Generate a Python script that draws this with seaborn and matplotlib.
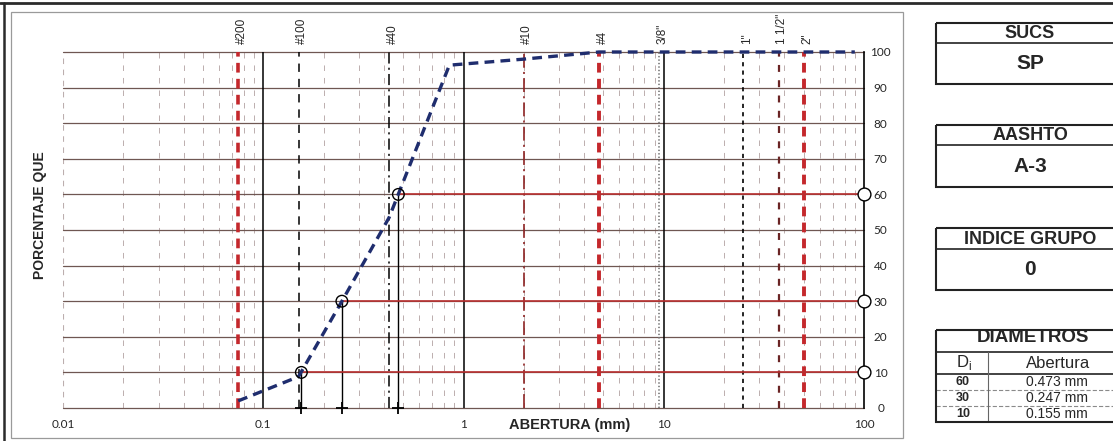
import numpy as np
import pandas as pd
import matplotlib
matplotlib.use("Agg")
import matplotlib.pyplot as plt
from matplotlib.patches import Rectangle
import seaborn as sns

# ---------------------------------------------------------------- data
# Grain-size analysis: sieve opening (mm) and percentage passing
sieve_mm = [0.075, 0.150, 0.250, 0.425, 0.850, 2.00, 4.75, 9.5, 25.0, 37.5, 50.0, 76.2, 90.0]
passing = [2.0, 8.8, 30.5, 53.5, 96.3, 98.0, 100.0, 100.0, 100.0, 100.0, 100.0, 100.0, 100.0]

# Reference sieves marked across the chart
ref_names = ["#200", "#100", "#40", "#10", "#4", '3/8"', '1"', '1 1/2"', '2"']
ref_mm = [0.075, 0.150, 0.425, 2.00, 4.75, 9.5, 25.0, 37.5, 50.0]

# Characteristic diameters D60 / D30 / D10
d_pct = [60, 30, 10]
d_mm = [0.473, 0.247, 0.155]
d_text = ["0.473 mm", "0.247 mm", "0.155 mm"]

# Classification results
sucs = "SP"
aashto = "A-3"
indice_grupo = "0"

x_ticks = [0.01, 0.1, 1, 10, 100]
x_tick_labels = ["0.01", "0.1", "1", "10", "100"]
y_ticks = [0, 10, 20, 30, 40, 50, 60, 70, 80, 90, 100]

# ---------------------------------------------------------------- styles
RED = "#c4282c"
DARKRED = "#8c2222"
NAVY = "#1f2d6e"
GRID = "#6f5752"
MINOR = "#bcaeae"

ref_styles = [
    dict(color=RED, lw=2.6, ls=(0, (7, 4.5))),
    dict(color="black", lw=1.1, ls=(0, (6, 5))),
    dict(color="black", lw=1.1, ls=(0, (8, 3, 1.5, 3))),
    dict(color=DARKRED, lw=1.2, ls=(0, (10, 3, 1.5, 3))),
    dict(color=RED, lw=2.8, ls=(0, (7, 4.5))),
    dict(color="#777777", lw=1.2, ls=(0, (1, 1.5))),
    dict(color="black", lw=1.2, ls=(0, (3, 3))),
    dict(color="#6a2424", lw=1.6, ls=(0, (5, 6))),
    dict(color=RED, lw=2.8, ls=(0, (7, 4.5))),
]

sns.set_theme(style="white")
plt.rcParams["font.family"] = ["Liberation Sans", "DejaVu Sans"]
plt.rcParams["lines.scale_dashes"] = False

W, H = 1113, 441
fig = plt.figure(figsize=(W / 100, H / 100), dpi=100)
fig.patch.set_facecolor("white")

x0, x1, y0, y1 = 63, 864, 52, 408
ax = fig.add_axes([x0 / W, 1 - y1 / H, (x1 - x0) / W, (y1 - y0) / H])
ax.set_facecolor("white")
ax.set_xscale("log")
ax.set_xlim(0.01, 100)
ax.set_ylim(0, 100)

# minor vertical grid (2..9 of each decade)
for dec in [0.01, 0.1, 1, 10]:
    for k in range(2, 10):
        ax.axvline(k * dec, color=MINOR, lw=0.7, ls=(0, (4, 5)), zorder=1)
ax.axvline(0.01, color=MINOR, lw=0.8, ls=(0, (4, 4)), zorder=1)

# horizontal grid
for yv in y_ticks:
    ax.axhline(yv, color=GRID, lw=0.9, zorder=2, clip_on=False)

# decade lines
for dec in [0.1, 1, 10]:
    ax.axvline(dec, color="black", lw=1.1, zorder=3)

# reference sieve lines
for xv, st in zip(ref_mm, ref_styles):
    ax.axvline(xv, color=st["color"], lw=st["lw"], ls=st["ls"], zorder=4)

for name, xv in zip(ref_names, ref_mm):
    ax.annotate(name, xy=(xv, 100), xytext=(2.5, 6), textcoords="offset points",
                rotation=90, ha="center", va="bottom", fontsize=8.5)

# characteristic diameters: drop lines, red level lines, markers
for dm, dp in zip(d_mm, d_pct):
    ax.plot([dm, dm], [0, dp], color="black", lw=1.0, zorder=5)
    ax.plot([dm, 100], [dp, dp], color="#b83030", lw=1.2, zorder=5)

ax.scatter(d_mm, d_pct, s=70, facecolors="none", edgecolors="black",
           linewidths=1.0, zorder=7)
ax.scatter([100] * len(d_pct), d_pct, s=85, facecolors="white",
           edgecolors="black", linewidths=1.0, zorder=7, clip_on=False)
ax.scatter(d_mm, [0] * len(d_mm), s=70, marker="+", color="black",
           linewidths=1.3, zorder=7, clip_on=False)

# grading curve
curve = pd.DataFrame({"abertura": sieve_mm, "pasa": passing})
sns.lineplot(data=curve, x="abertura", y="pasa", ax=ax, color=NAVY,
             lw=2.4, estimator=None, sort=True, zorder=6)
ax.lines[-1].set_linestyle((0, (7, 4.5)))
ax.lines[-1].set_clip_on(False)

# axes frame and ticks
for side in ["top", "left", "bottom"]:
    ax.spines[side].set_visible(False)
ax.spines["right"].set_visible(True)
ax.spines["right"].set_color("black")
ax.spines["right"].set_linewidth(1.2)

ax.set_xticks(x_ticks)
ax.set_xticklabels(x_tick_labels)
ax.xaxis.set_minor_locator(matplotlib.ticker.NullLocator())
ax.yaxis.tick_right()
ax.set_yticks(y_ticks)
ax.set_yticklabels([str(v) for v in y_ticks])
ax.tick_params(axis="x", length=0, pad=8, labelsize=8.5)
ax.tick_params(axis="y", length=0, pad=12, labelsize=8.5)
for lab in ax.get_yticklabels():
    lab.set_horizontalalignment("center")
for lab in ax.get_xticklabels() + ax.get_yticklabels():
    lab.set_family(["Lato", "DejaVu Sans"])
ax.set_xlabel("")
ax.set_ylabel("")
ax.grid(False)

# ---------------------------------------------------------------- overlay (pixel space)
ov = fig.add_axes([0, 0, 1, 1], zorder=10)
ov.set_xlim(0, W)
ov.set_ylim(H, 0)
ov.axis("off")
ov.patch.set_alpha(0)

ov.plot([0, W], [3, 3], color="#2b2b2b", lw=2.0)
ov.plot([4, 4], [3, H], color="#2b2b2b", lw=1.8)
ov.add_patch(Rectangle((11, 12), 892, 426, fill=False, ec="#9a9a9a", lw=0.9))

ov.text(570, 425, "ABERTURA (mm)", ha="center", va="center",
        fontsize=10.5, fontweight="bold")
ov.text(40, 215, "PORCENTAJE QUE", ha="center", va="center", rotation=90,
        fontsize=10, fontweight="bold")

BX0, BX1 = 936, 1125
boxes = [("SUCS", sucs, 23, 43, 84),
         ("AASHTO", aashto, 125, 145, 187),
         ("INDICE GRUPO", indice_grupo, 228, 249, 290)]
for head, val, top, mid, bot in boxes:
    ov.add_patch(Rectangle((BX0, top), BX1 - BX0, bot - top, fill=False,
                           ec="#222222", lw=1.5))
    ov.plot([BX0, BX1], [mid, mid], color="#222222", lw=1.2)
    ov.text(1030, (top + mid) / 2 + 0.5, head, ha="center", va="center",
            fontsize=13, fontweight="bold")
    ov.text(1030, (mid + bot) / 2, val, ha="center", va="center",
            fontsize=15, fontweight="bold")

# diameters table
t_top, t_head = 330, 352
row_y = [374, 390, 406, 422]
ov.text(1033, 338, "DIAMETROS", ha="center", va="center",
        fontsize=13.5, fontweight="bold", zorder=2)
ov.add_patch(Rectangle((BX0 - 5, 316), 200, 14, fc="white", ec="none", zorder=3))
ov.add_patch(Rectangle((BX0, t_top), BX1 - BX0, row_y[-1] - t_top, fill=False,
                       ec="#222222", lw=1.5, zorder=4))
ov.plot([BX0, BX1], [t_head, t_head], color="#222222", lw=1.2)
ov.plot([BX0, BX1], [row_y[0], row_y[0]], color="#222222", lw=1.2)
for yy in row_y[1:-1]:
    ov.plot([BX0, BX1], [yy, yy], color="#8a8a8a", lw=0.8, ls=(0, (3, 1.5)))
ov.plot([988, 988], [t_head, row_y[-1]], color="#666666", lw=0.8)

ov.text(964, (t_head + row_y[0]) / 2, r"D$_\mathregular{i}$", ha="center",
        va="center", fontsize=12)
ov.text(1058, (t_head + row_y[0]) / 2, "Abertura", ha="center", va="center",
        fontsize=12)
for i, (dp, dt) in enumerate(zip(d_pct, d_text)):
    yc = (row_y[i] + row_y[i + 1]) / 2
    ov.text(963, yc, str(dp), ha="center", va="center", fontsize=9,
            fontweight="bold")
    ov.text(1057, yc, dt, ha="center", va="center", fontsize=10)

fig.savefig("out.png", dpi=100, facecolor="white")
